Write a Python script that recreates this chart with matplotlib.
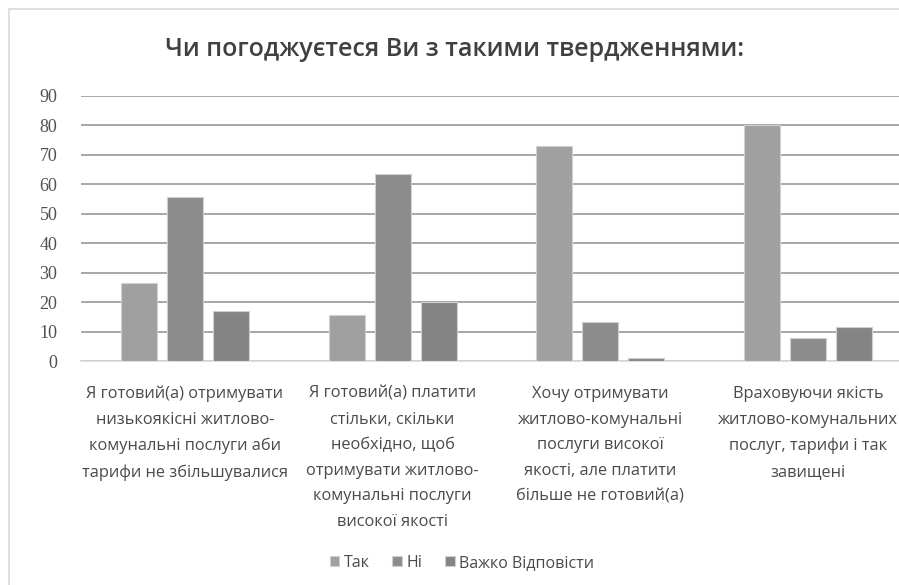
import matplotlib
matplotlib.use("Agg")
import matplotlib.pyplot as plt
from matplotlib import font_manager
from matplotlib.patches import Rectangle
import numpy as np

categories = [
    "Я готовий(а) отримувати\nнизькоякісні житлово-\nкомунальні послуги аби\nтарифи не збільшувалися",
    "Я готовий(а) платити\nстільки, скільки\nнеобхідно, щоб\nотримувати житлово-\nкомунальні послуги\nвисокої якості",
    "Хочу отримувати\nжитлово-комунальні\nпослуги високої\nякості, але платити\nбільше не готовий(а)",
    "Враховуючи якість\nжитлово-комунальних\nпослуг, тарифи і так\nзавищені",
]
series_names = ["Так", "Ні", "Важко Відповісти"]
tak = [26.5, 15.5, 72.8, 80.0]
ni = [55.7, 63.6, 13.1, 7.8]
vazhko = [17.0, 19.9, 0.9, 11.6]
yticks = [0, 10, 20, 30, 40, 50, 60, 70, 80, 90]
title = "Чи погоджуєтеся Ви з такими твердженнями:"

names = {f.name for f in font_manager.fontManager.ttflist}
narrow = "Liberation Sans Narrow" if "Liberation Sans Narrow" in names else "Open Sans"
serif = "Liberation Serif" if "Liberation Serif" in names else "DejaVu Serif"

W, H = 899, 585
fig = plt.figure(figsize=(W / 100, H / 100), dpi=100)
fig.patch.set_facecolor("white")

# chart border (top/left visible)
fig.add_artist(Rectangle((9 / W, -0.1), 1.2, (H - 9) / H + 0.1, transform=fig.transFigure,
                         fill=False, edgecolor="#d9d9d9", linewidth=1.2))

left, right = 81, 912
top, bottom = 95.7, 361
ax = fig.add_axes([left / W, (H - bottom) / H, (right - left) / W, (bottom - top) / H])
ax.set_facecolor("none")

x = np.arange(len(categories))
step = 46 / 207.75
width = 36 / 207.75
colors = ["#a0a0a0", "#8c8c8c", "#848484"]
for i, (vals, c) in enumerate(zip([tak, ni, vazhko], colors)):
    ax.bar(x + (i - 1) * step, vals, width, color=c, edgecolor="#d0d0d0", linewidth=0.8,
           label=series_names[i], zorder=3)

ax.set_xlim(-0.5, 3.5)
ax.set_ylim(0, 90)
ax.set_yticks(yticks)
ax.set_yticklabels([str(v) for v in yticks], fontsize=13, color="#505050", family=serif)
ax.yaxis.grid(True, color="#a0a0a0", linewidth=1.3, zorder=0)
ax.set_axisbelow(True)
for s in ["top", "right", "left"]:
    ax.spines[s].set_visible(False)
ax.spines["bottom"].set_color("#d9d9d9")
ax.spines["bottom"].set_linewidth(1.2)
ax.tick_params(axis="y", length=0, pad=17)
ax.tick_params(axis="x", length=0, pad=18)
ax.set_xticks(x)
ax.set_xticklabels(categories, fontsize=11.8, color="#4a4a4a", family=narrow, linespacing=1.8,
                   va="top")

fig.text(455 / W, 1 - 50 / H, title, ha="center", va="center", fontsize=18,
         color="#404040", family=narrow, fontweight="semibold")

leg = fig.legend(loc="center", bbox_to_anchor=(462 / W, 1 - 563 / H), ncol=3, frameon=False,
                 handlelength=0.6, handleheight=0.6, handletextpad=0.3,
                 columnspacing=1.4, prop={"family": narrow, "size": 11.5})
for t in leg.get_texts():
    t.set_color("#4a4a4a")

fig.savefig("out.png", dpi=100)
